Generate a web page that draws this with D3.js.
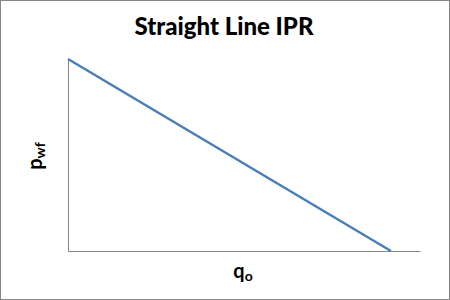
<!DOCTYPE html>
<html><head><meta charset="utf-8">
<script src="https://cdn.jsdelivr.net/npm/d3@7"></script>
<style>body{margin:0;background:#fff}svg{display:block}</style>
</head><body>
<script>
const rates = [0, 1000];        // q_o
const pressures = [3000, 0];    // p_wf
const xMaxValue = 1090;
const yMaxValue = 3000;
const title = "Straight Line IPR";

const W = 450, H = 300;
const svg = d3.select("body").append("svg").attr("width", W).attr("height", H);
svg.append("rect").attr("x",0.5).attr("y",0.5).attr("width",W-1).attr("height",H-1)
  .attr("fill","#fff").attr("stroke","#868686");

const x = d3.scaleLinear().domain([0, xMaxValue]).range([68, 420]);
const y = d3.scaleLinear().domain([0, yMaxValue]).range([251, 59]);

const axisY = d3.axisLeft(y).tickValues([]).tickSizeOuter(0);
const axisX = d3.axisBottom(x).tickValues([]).tickSizeOuter(0);
svg.append("g").attr("transform","translate(68,0)").call(axisY)
  .select(".domain").attr("stroke","#868686");
svg.append("g").attr("transform","translate(0,251)").call(axisX)
  .select(".domain").attr("stroke","#868686");

const data = rates.map((q,i)=>({q, p: pressures[i]}));
svg.append("path").datum(data)
  .attr("fill","none").attr("stroke","#4a7ebb").attr("stroke-width",2.5)
  .attr("d", d3.line().x(d=>x(d.q)).y(d=>y(d.p)));

svg.append("text").attr("x",224).attr("y",35).attr("text-anchor","middle")
  .attr("font-family","Lato, 'Open Sans', sans-serif").attr("font-weight","900")
  .attr("font-size",24).text(title);

const yl = svg.append("text").attr("transform","translate(42,156) rotate(-90)")
  .attr("text-anchor","middle").attr("font-family","Lato, sans-serif")
  .attr("font-weight","bold").attr("font-size",20);
yl.append("tspan").text("p");
yl.append("tspan").attr("font-size",14).attr("dy",3).text("wf");

const xl = svg.append("text").attr("x",243).attr("y",278)
  .attr("text-anchor","middle").attr("font-family","Lato, sans-serif")
  .attr("font-weight","bold").attr("font-size",20);
xl.append("tspan").text("q");
xl.append("tspan").attr("font-size",14).attr("dy",3).text("o");
</script>
</body></html>
